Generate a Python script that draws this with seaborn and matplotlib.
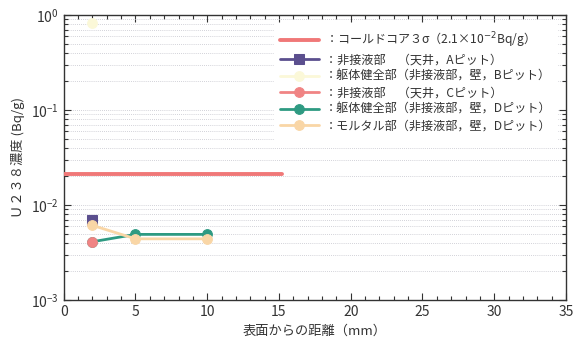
import numpy as np
import pandas as pd
import matplotlib
matplotlib.use("Agg")
import matplotlib.pyplot as plt
import seaborn as sns
from matplotlib.ticker import MultipleLocator, LogLocator

sns.set_style("white")
plt.rcParams['font.family'] = ['Noto Sans CJK JP', 'DejaVu Sans']
plt.rcParams['mathtext.fontset'] = 'dejavusans'

## data
core_x = [0, 15.2]
core_y = [0.021, 0.021]

a_x = [2]
a_y = [0.0069]

b_x = [2]
b_y = [0.82]

c_x = [2]
c_y = [0.0041]

d_x = [2, 5, 10]
d_y = [0.0041, 0.0049, 0.0049]

m_x = [2, 5, 10]
m_y = [0.0061, 0.0044, 0.0044]

labels = [
    '：コールドコア３σ（2.1×10$^{-2}$Bq/g）',
    '：非接液部　（天井，Aピット）',
    '：躯体健全部（非接液部，壁，Bピット）',
    '：非接液部　（天井，Cピット）',
    '：躯体健全部（非接液部，壁，Dピット）',
    '：モルタル部（非接液部，壁，Dピット）',
]

fig = plt.figure(figsize=(5.74, 3.42), dpi=100)
ax = fig.add_axes([0.111, 0.123, 0.875, 0.833])

ms = 7
sns.lineplot(x=core_x, y=core_y, ax=ax, color='#f07878', lw=2.8, label=labels[0], zorder=3)
sns.lineplot(x=a_x, y=a_y, ax=ax, color='#5b4f8e', lw=2, marker='s', markersize=ms,
             markeredgecolor='#5b4f8e', label=labels[1], zorder=4)
sns.lineplot(x=b_x, y=b_y, ax=ax, color='#fbf8d8', lw=2, marker='o', markersize=ms,
             markeredgecolor='#fbf8d8', label=labels[2], zorder=4)
sns.lineplot(x=d_x, y=d_y, ax=ax, color='#2e9a82', lw=2, marker='o', markersize=ms,
             markeredgecolor='#2e9a82', label=labels[4], zorder=4)
sns.lineplot(x=c_x, y=c_y, ax=ax, color='#f08484', lw=2, marker='o', markersize=ms,
             markeredgecolor='#f08484', label=labels[3], zorder=5)
sns.lineplot(x=m_x, y=m_y, ax=ax, color='#f9d6a6', lw=2, marker='o', markersize=ms,
             markeredgecolor='#f9d6a6', label=labels[5], zorder=6)

ax.set_yscale('log')
ax.set_ylim(1e-3, 1)
ax.set_xlim(0, 35)
ax.xaxis.set_major_locator(MultipleLocator(5))
ax.xaxis.set_minor_locator(MultipleLocator(1))
ax.yaxis.set_major_locator(LogLocator(base=10, numticks=10))
ax.yaxis.set_minor_locator(LogLocator(base=10, subs=np.arange(2, 10), numticks=10))
ax.tick_params(which='both', direction='in', bottom=True, left=True, top=True, right=True,
               color='#333333', width=0.8)
ax.tick_params(which='major', length=5, labelsize=10, labelcolor='#333333')
ax.tick_params(which='minor', length=3)
ax.grid(True, which='both', axis='y', color='#c4c4cc', ls=(0, (1, 1.5)), lw=0.6)
for s in ax.spines.values():
    s.set_color('#333333')
    s.set_linewidth(1)

ax.set_xlabel('表面からの距離（mm）', fontsize=9.5, color='#333333')
ax.set_ylabel('Ｕ２３８濃度 (Bq/g)', fontsize=9.5, color='#333333')

h, l = ax.get_legend_handles_labels()
order = [l.index(t) for t in labels]
leg = ax.legend([h[i] for i in order], [l[i] for i in order], loc='upper right',
                bbox_to_anchor=(0.995, 0.99), frameon=True, fontsize=8.7,
                handlelength=3.2, labelspacing=0.3, borderpad=0.5, fancybox=False,
                handletextpad=0.5)
leg.get_frame().set_edgecolor('white')
leg.get_frame().set_alpha(1)
for t in leg.get_texts():
    t.set_color('#333333')

fig.savefig('out.png', dpi=100)
